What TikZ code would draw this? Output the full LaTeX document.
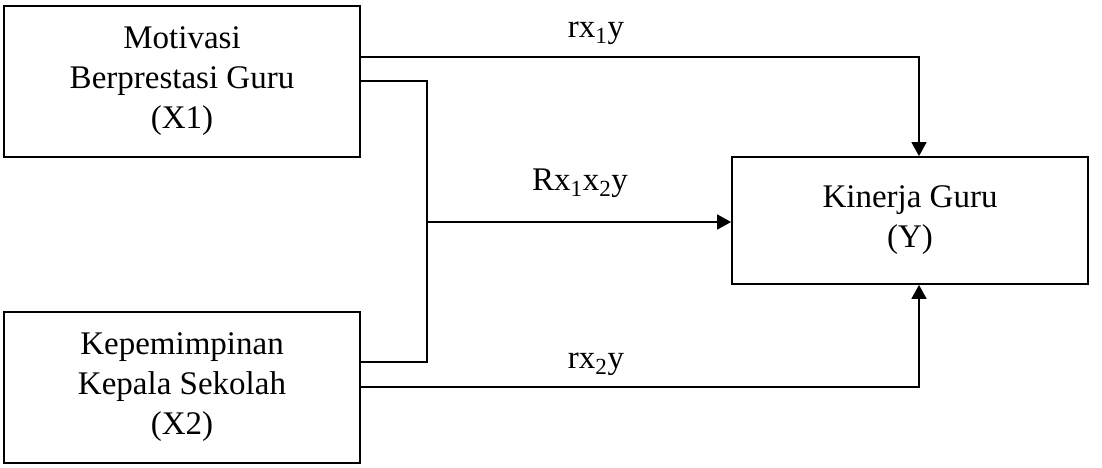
\documentclass[tikz,border=0pt]{standalone}
\usepackage{fontspec}
\setmainfont{Liberation Serif}
\usetikzlibrary{arrows.meta}
\begin{document}
\begin{tikzpicture}[x=1pt,y=-1pt,
  boxnode/.style={draw, line width=1.8pt, minimum width=356pt, align=center, inner sep=0pt,
    font=\fontsize{33}{40}\selectfont},
  conn/.style={line width=1.6pt},
  arr/.style={conn, -{Triangle[length=14pt,width=15pt]}},
  lbl/.style={font=\fontsize{33}{40}\selectfont, inner sep=0pt}]
\useasboundingbox (0,0) rectangle (1102,467);
\node[boxnode, minimum height=151pt] (x1) at (182,81.5) {Motivasi\\Berprestasi Guru\\(X1)};
\node[boxnode, minimum height=151pt] (x2) at (182,387.5) {Kepemimpinan\\Kepala Sekolah\\(X2)};
\node[boxnode, minimum height=127pt] (y) at (910,220.5) {Kinerja Guru\\(Y)};
\coordinate (j) at (427,222);
\coordinate (tx) at (919,0);
\draw[arr] (x1.east |- 0,57) -| (tx |- y.north);
\draw[conn] (x1.east |- 0,81) -| (j |- 0,362) -- (x2.east |- 0,362);
\draw[arr] (j) -- (y.west |- j);
\draw[arr] (x2.east |- 0,387) -| (tx |- y.south);
\node[lbl, anchor=base] (l1) at (596,37) {rx\textsubscript{1}y};
\node[lbl, anchor=base] (l2) at (580,190) {Rx\textsubscript{1}x\textsubscript{2}y};
\node[lbl, anchor=base] (l3) at (596,368) {rx\textsubscript{2}y};
\end{tikzpicture}
\end{document}
